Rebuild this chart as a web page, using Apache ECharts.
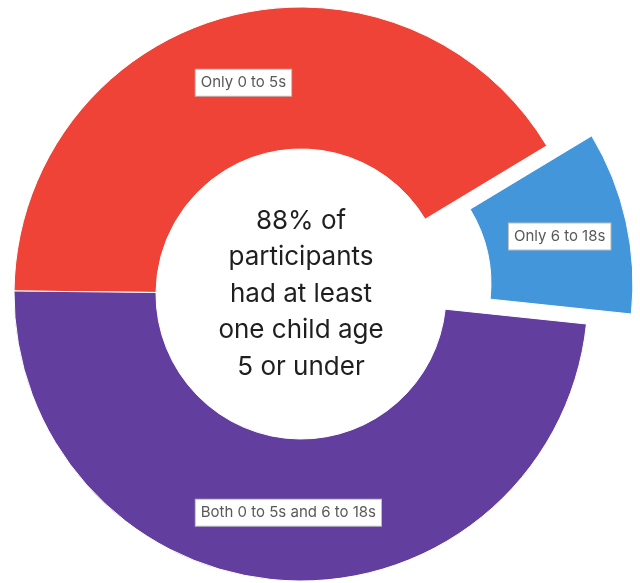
<!DOCTYPE html>
<html>
<head>
<meta charset="utf-8">
<script src="https://cdn.jsdelivr.net/npm/echarts@6/dist/echarts.min.js"></script>
<style>
  html, body { margin: 0; padding: 0; background: #fff; }
  #chart { width: 640px; height: 583px; }
</style>
</head>
<body>
<div id="chart"></div>
<script>
// 数据
const categories = ['Only 0 to 5s', 'Only 6 to 18s', 'Both 0 to 5s and 6 to 18s']
const shares = [41.2, 10.3, 48.5]
const colors = ['#EF4337', '#4296D9', '#623E9E']
const exploded = [false, true, false]
const centerLines = ['88% of', 'participants', 'had at least', 'one child age', '5 or under']

const chart = echarts.init(document.getElementById('chart'))

const option = {
  animation: false,
  graphic: [{
    type: 'text',
    x: 301,
    y: 294,
    style: {
      text: centerLines.join('\n'),
      fontFamily: 'Inter',
      fontSize: 26,
      lineHeight: 36.5,
      fill: '#1f1f1f',
      align: 'center',
      verticalAlign: 'middle'
    },
    z: 10
  }],
  series: [{
    type: 'pie',
    center: [301, 294],
    radius: [145, 287],
    startAngle: 179.4,
    selectedMode: 'single',
    selectedOffset: 46,
    avoidLabelOverlap: false,
    emphasis: { disabled: true },
    itemStyle: {
      borderColor: '#fff',
      borderWidth: 1
    },
    label: {
      show: true,
      position: 'inside',
      fontFamily: 'Inter',
      fontSize: 15,
      lineHeight: 18,
      color: '#595959',
      backgroundColor: '#fff',
      borderColor: '#bdbdbd',
      borderWidth: 1,
      padding: [4, 5, 4, 5],
      formatter: '{b}'
    },
    labelLine: { show: false },
    data: categories.map((name, i) => ({
      name: name,
      value: shares[i],
      selected: exploded[i],
      itemStyle: { color: colors[i] }
    }))
  }]
}

chart.setOption(option)
</script>
</body>
</html>
